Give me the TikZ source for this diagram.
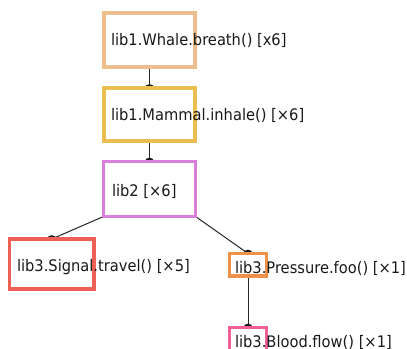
\documentclass[tikz,border=0pt]{standalone}
\usepackage{fontspec}
\setmainfont{DejaVu Sans}[FakeStretch=0.92]
\usetikzlibrary{backgrounds}
\definecolor{cwhale}{RGB}{236,190,140}
\definecolor{cmammal}{RGB}{235,190,80}
\definecolor{clibtwo}{RGB}{218,128,218}
\definecolor{csignal}{RGB}{238,96,86}
\definecolor{cpressure}{RGB}{240,145,75}
\definecolor{cblood}{RGB}{240,95,150}
\tikzset{
  box/.style={draw=#1, line width=2.4pt, fill=white, rectangle, inner sep=0pt, outer sep=0pt},
  lbl/.style={anchor=base west, inner sep=0pt, outer sep=0pt, font=\fontsize{11.95}{14}\selectfont, text=black!90},
  conn/.style={draw=black!85, line width=0.75pt},
  tipdot/.style={fill=black!90}
}
\begin{document}
\begin{tikzpicture}[x=0.75pt,y=-0.75pt]
\useasboundingbox (0,0) rectangle (407,349);
% boxes
\node[box=cwhale, minimum width=68.25pt, minimum height=40.5pt] (whale) at (149.5,40) {};
\node[box=cmammal, minimum width=68.25pt, minimum height=39.75pt] (mammal) at (149.5,114.5) {};
\node[box=clibtwo, minimum width=69pt, minimum height=41.25pt] (libtwo) at (149.5,189) {};
\node[box=csignal, minimum width=63.4pt, minimum height=37.5pt] (signal) at (51.75,264) {};
\node[box=cpressure, minimum width=27.75pt, minimum height=16.9pt] (pressure) at (248,264.75) {};
\node[box=cblood, minimum width=27.75pt, minimum height=17.25pt] (blood) at (248,339) {};
% labels
\node[lbl] (twhale) at (111,46) {lib1.Whale.breath() [x6]};
\node[lbl] (tmammal) at (111,121) {lib1.Mammal.inhale() [×6]};
\node[lbl] (tlibtwo) at (112,197) {lib2 [×6]};
\node[lbl] (tsignal) at (17,272) {lib3.Signal.travel() [×5]};
\node[lbl] (tpressure) at (235,273) {lib3.Pressure.foo() [×1]};
\node[lbl] (tblood) at (235,347) {lib3.Blood.flow() [×1]};
% connectors
\begin{pgfonlayer}{background}
\draw[conn] (whale.south) -- (mammal.north);
\fill[tipdot] (mammal.north) ellipse [x radius=4.5, y radius=3.8];
\draw[conn] (mammal.south) -- (libtwo.north);
\fill[tipdot] (libtwo.north) ellipse [x radius=4.5, y radius=3.8];
\draw[conn] (libtwo.south west) -- (signal.north);
\fill[tipdot] (signal.north) ellipse [x radius=4.5, y radius=3.8];
\draw[conn] (libtwo.south east) -- (pressure.north);
\fill[tipdot] (pressure.north) ellipse [x radius=4.5, y radius=3.8];
\draw[conn] (pressure.south) -- (blood.north);
\fill[tipdot] (blood.north) ellipse [x radius=4.5, y radius=3.8];
\end{pgfonlayer}
\end{tikzpicture}
\end{document}
